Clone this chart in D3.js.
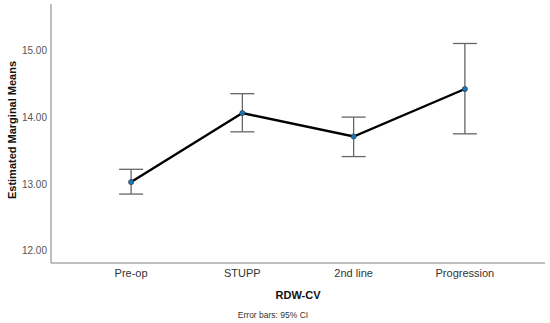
<!DOCTYPE html>
<html>
<head>
<meta charset="utf-8">
<script src="https://cdn.jsdelivr.net/npm/d3@7"></script>
<style>
  body { margin: 0; background: #fff; }
  svg { display: block; font-family: "Liberation Sans", Arial, sans-serif; }
</style>
</head>
<body>
<svg width="550" height="323"></svg>
<script>
// data
var groups = ["Pre-op", "STUPP", "2nd line", "Progression"];
var means = [13.03, 14.06, 13.71, 14.42];
var ciLow = [12.85, 13.78, 13.41, 13.75];
var ciHigh = [13.22, 14.35, 14.00, 15.10];
var yTicks = [12, 13, 14, 15];

var svg = d3.select("svg");

// plot frame
var plotL = 51, plotR = 545, plotT = 4, plotB = 263;

var x = d3.scalePoint()
  .domain(groups)
  .range([plotL, plotR])
  .padding(0.72);

var y = d3.scaleLinear()
  .domain([11.82, 15.69])
  .range([plotB, plotT]);

// axes
svg.append("line")
  .attr("x1", plotL).attr("x2", plotL)
  .attr("y1", plotT).attr("y2", plotB)
  .attr("stroke", "#aaa").attr("stroke-width", 1.5);
svg.append("line")
  .attr("x1", plotL).attr("x2", plotR)
  .attr("y1", plotB).attr("y2", plotB)
  .attr("stroke", "#aaa").attr("stroke-width", 1.5);

svg.selectAll(".ytick")
  .data(yTicks)
  .enter().append("text")
    .attr("class", "ytick")
    .attr("x", plotL - 4)
    .attr("y", function(d) { return y(d); })
    .attr("dy", "0.35em")
    .attr("text-anchor", "end")
    .attr("font-size", 10)
    .attr("fill", "#555")
    .text(function(d) { return d.toFixed(2); });

svg.selectAll(".xtick")
  .data(groups)
  .enter().append("text")
    .attr("class", "xtick")
    .attr("x", function(d) { return x(d); })
    .attr("y", 277)
    .attr("text-anchor", "middle")
    .attr("font-size", 11)
    .attr("fill", "#333")
    .text(function(d) { return d; });

// titles
svg.append("text")
  .attr("x", 298).attr("y", 299)
  .attr("text-anchor", "middle")
  .attr("font-size", 11).attr("font-weight", "bold")
  .attr("fill", "#111")
  .text("RDW-CV");

svg.append("text")
  .attr("x", 273).attr("y", 318)
  .attr("text-anchor", "middle")
  .attr("font-size", 8.5)
  .attr("fill", "#333")
  .text("Error bars: 95% CI");

svg.append("text")
  .attr("transform", "translate(16,130) rotate(-90)")
  .attr("text-anchor", "middle")
  .attr("font-size", 11).attr("font-weight", "bold")
  .attr("fill", "#111")
  .text("Estimated Marginal Means");

// error bars
var bars = svg.append("g").attr("stroke", "#666").attr("stroke-width", 1.3);
groups.forEach(function(g, i) {
  var cx = x(g);
  bars.append("line")
    .attr("x1", cx).attr("x2", cx)
    .attr("y1", y(ciLow[i])).attr("y2", y(ciHigh[i]));
  bars.append("line")
    .attr("x1", cx - 12).attr("x2", cx + 12)
    .attr("y1", y(ciLow[i])).attr("y2", y(ciLow[i]));
  bars.append("line")
    .attr("x1", cx - 12).attr("x2", cx + 12)
    .attr("y1", y(ciHigh[i])).attr("y2", y(ciHigh[i]));
});

// mean line
var line = d3.line()
  .x(function(d, i) { return x(groups[i]); })
  .y(function(d) { return y(d); });

svg.append("path")
  .datum(means)
  .attr("d", line)
  .attr("fill", "none")
  .attr("stroke", "#000")
  .attr("stroke-width", 2.4);

svg.selectAll(".pt")
  .data(means)
  .enter().append("circle")
    .attr("class", "pt")
    .attr("cx", function(d, i) { return x(groups[i]); })
    .attr("cy", function(d) { return y(d); })
    .attr("r", 2.6)
    .attr("fill", "#1a78b8")
    .attr("stroke", "#234")
    .attr("stroke-width", 0.6);
</script>
</body>
</html>
